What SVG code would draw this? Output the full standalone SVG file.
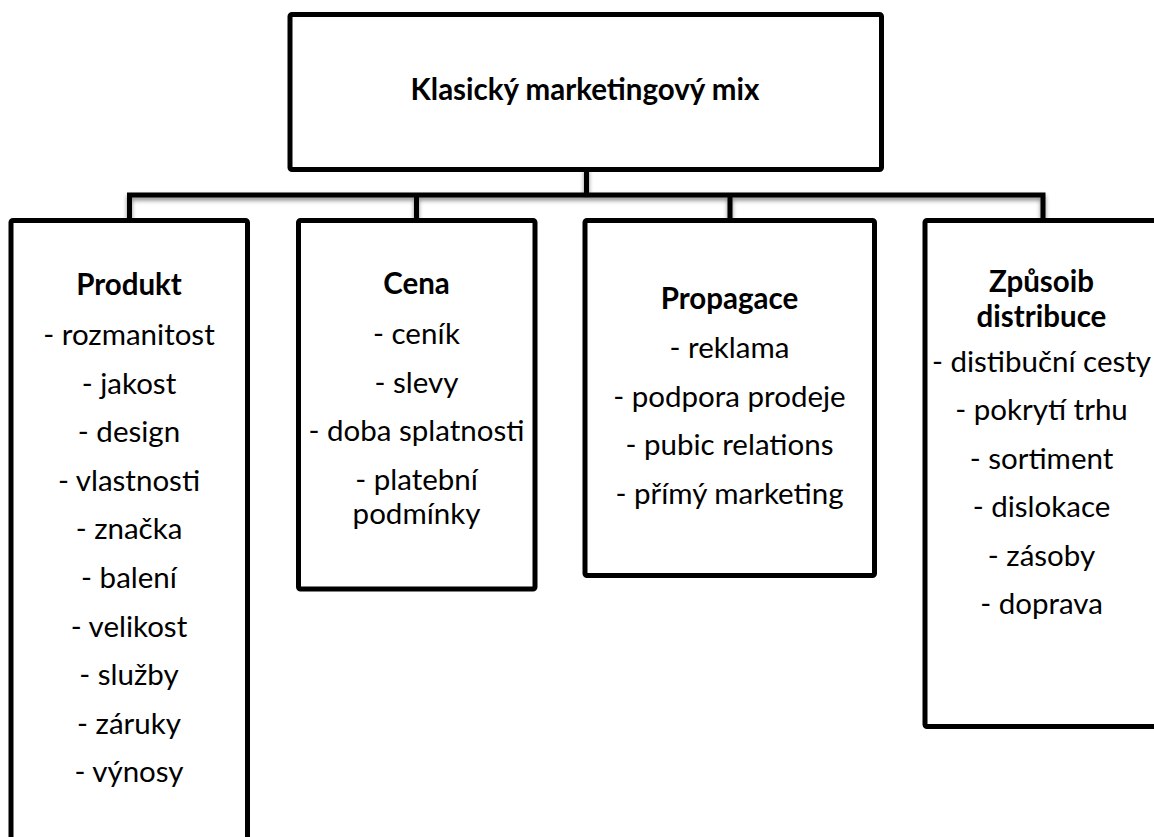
<svg xmlns="http://www.w3.org/2000/svg" width="1154" height="837" viewBox="0 0 1154 837">
<defs>
<style>
.box{fill:#fff;stroke:#000;stroke-width:5;}
.t{font-family:Lato,"Liberation Sans",sans-serif;font-size:29.5px;fill:#000;text-anchor:middle;}
.b{font-weight:bold;}
.conn{fill:none;stroke:#000;stroke-width:5;stroke-linecap:square;}
</style>
<filter id="sh" x="-5%" y="-50%" width="110%" height="200%">
<feDropShadow dx="0" dy="3" stdDeviation="2" flood-color="#000" flood-opacity="0.45"/>
</filter>
</defs>
<rect width="1154" height="837" fill="#fff"/>
<g id="connectors" filter="url(#sh)">
<path class="conn" d="M586.5 170 V195 M129.5 195 H1043 M129.5 195 V220 M416.5 195 V220 M730 195 V220 M1043 195 V220"/>
</g>
<g id="top">
<rect class="box" x="290" y="14.5" width="591.5" height="155" rx="2"/>
<text class="t b" x="585" y="100">Klasický marketingový mix</text>
</g>
<g id="produkt">
<rect class="box" x="11" y="220.5" width="236.5" height="640" rx="2"/>
<text class="t b" x="129" y="295">Produkt</text>
<text class="t" x="129" y="345">- rozmanitost</text>
<text class="t" x="129" y="393.6">- jakost</text>
<text class="t" x="129" y="442.2">- design</text>
<text class="t" x="129" y="490.8">- vlastnosti</text>
<text class="t" x="129" y="539.4">- značka</text>
<text class="t" x="129" y="588">- balení</text>
<text class="t" x="129" y="636.6">- velikost</text>
<text class="t" x="129" y="685.2">- služby</text>
<text class="t" x="129" y="733.8">- záruky</text>
<text class="t" x="129" y="782.4">- výnosy</text>
</g>
<g id="cena">
<rect class="box" x="298.5" y="220.5" width="236.5" height="368.5" rx="2"/>
<text class="t b" x="416.5" y="294">Cena</text>
<text class="t" x="416.5" y="344">- ceník</text>
<text class="t" x="416.5" y="392.6">- slevy</text>
<text class="t" x="416.5" y="441.2">- doba splatnosti</text>
<text class="t" x="416.5" y="489.8">- platební</text>
<text class="t" x="416.5" y="524">podmínky</text>
</g>
<g id="propagace">
<rect class="box" x="585" y="220.5" width="289.5" height="355" rx="2"/>
<text class="t b" x="729.5" y="309">Propagace</text>
<text class="t" x="729.5" y="358">- reklama</text>
<text class="t" x="729.5" y="406.6">- podpora prodeje</text>
<text class="t" x="729.5" y="455.2">- pubic relations</text>
<text class="t" x="729.5" y="503.8">- přímý marketing</text>
</g>
<g id="distribuce">
<rect class="box" x="925" y="220.5" width="240" height="506" rx="2"/>
<text class="t b" x="1041.5" y="292">Způsoib</text>
<text class="t b" x="1041.5" y="327">distribuce</text>
<text class="t" x="1041.5" y="372">- distibuční cesty</text>
<text class="t" x="1041.5" y="420.4">- pokrytí trhu</text>
<text class="t" x="1041.5" y="468.8">- sortiment</text>
<text class="t" x="1041.5" y="517.2">- dislokace</text>
<text class="t" x="1041.5" y="565.6">- zásoby</text>
<text class="t" x="1041.5" y="614">- doprava</text>
</g>
</svg>
